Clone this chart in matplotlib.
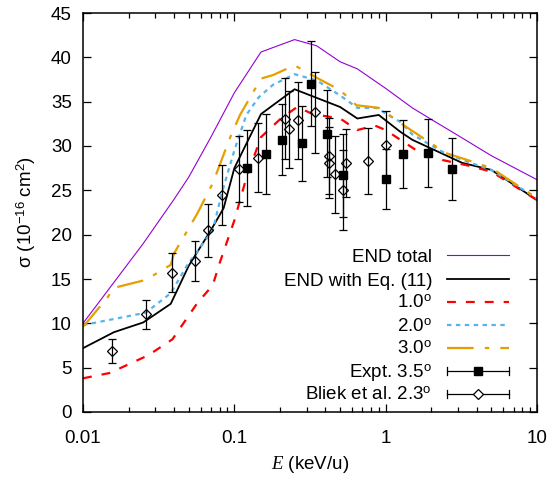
import matplotlib
matplotlib.use("Agg")
import matplotlib.pyplot as plt
from matplotlib.lines import Line2D

plt.rcParams['font.family'] = ['Liberation Sans', 'DejaVu Sans']
plt.rcParams['mathtext.fontset'] = 'custom'
plt.rcParams['mathtext.rm'] = 'Liberation Sans'
plt.rcParams['mathtext.it'] = 'Liberation Serif:italic'
plt.rcParams['mathtext.bf'] = 'Liberation Sans:bold'

# ---- data ----
total_E = [0.01, 0.025, 0.04, 0.05, 0.07, 0.1, 0.15, 0.25, 0.35, 0.5, 0.65, 1.0, 1.5, 2.0, 3.0, 5.0, 10.0]
total_s = [10.0, 19.0, 24.0, 26.5, 31.0, 36.0, 40.6, 42.0, 41.3, 39.5, 38.7, 36.5, 34.3, 33.0, 31.2, 28.9, 26.2]

eq11_E = [0.01, 0.016, 0.025, 0.038, 0.05, 0.07, 0.085, 0.1, 0.15, 0.25, 0.5, 0.65, 0.9, 1.25, 1.5, 3.2, 5.0, 10.0]
eq11_s = [7.2, 9.0, 10.1, 12.2, 16.5, 20.5, 23.0, 27.5, 33.6, 36.4, 34.4, 33.1, 33.5, 31.6, 30.7, 28.1, 27.3, 23.9]

a10_E = [0.01, 0.015, 0.027, 0.039, 0.057, 0.072, 0.08, 0.1, 0.12, 0.15, 0.2, 0.26, 0.33, 0.5, 0.65, 0.85, 1.0, 1.25, 1.6, 2.4, 3.5, 5.0, 6.5, 10.0]
a10_s = [3.8, 4.4, 6.4, 8.2, 12.3, 14.3, 16.8, 21.6, 26.4, 31.0, 33.0, 34.4, 33.6, 33.1, 31.8, 32.3, 31.8, 30.7, 29.5, 28.4, 27.8, 27.1, 25.9, 23.9]

a20_E = [0.01, 0.026, 0.038, 0.049, 0.072, 0.083, 0.1, 0.12, 0.145, 0.18, 0.25, 0.35, 0.5, 0.65, 0.87, 1.25, 1.5, 2.4, 3.5, 5.0, 10.0]
a20_s = [9.8, 11.2, 13.4, 16.6, 20.5, 24.8, 29.5, 33.5, 35.5, 36.9, 38.1, 37.4, 35.7, 34.3, 34.3, 32.7, 31.3, 29.3, 28.2, 27.3, 24.1]

a30_E = [0.01, 0.0145, 0.016, 0.026, 0.038, 0.04, 0.057, 0.072, 0.094, 0.109, 0.15, 0.18, 0.25, 0.35, 0.5, 0.64, 0.9, 1.3, 2.5, 3.5, 5.0, 10.0]
a30_s = [9.6, 12.9, 14.0, 14.9, 16.6, 17.9, 22.4, 25.8, 31.0, 33.5, 37.6, 38.0, 39.1, 37.7, 36.3, 34.6, 34.3, 32.4, 29.2, 28.4, 27.5, 24.1]

expt_E = [0.121, 0.162, 0.206, 0.28, 0.32, 0.41, 0.52, 1.01, 1.30, 1.9, 2.75]
expt_s = [27.5, 29.1, 30.7, 30.3, 37.0, 31.4, 26.7, 26.3, 29.1, 29.2, 27.4]
expt_err = [4.3, 4.5, 4.0, 4.2, 4.8, 4.9, 4.7, 3.4, 3.8, 3.8, 3.5]

bliek_E = [0.0156, 0.026, 0.039, 0.055, 0.067, 0.083, 0.107, 0.144, 0.216, 0.23, 0.264, 0.34, 0.42, 0.425, 0.46, 0.52, 0.55, 0.77, 1.0]
bliek_s = [6.9, 11.0, 15.7, 17.0, 20.5, 24.5, 27.4, 28.7, 33.1, 31.9, 32.9, 33.8, 28.9, 28.1, 26.8, 25.0, 28.1, 28.3, 30.1]
bliek_err = [1.35, 1.65, 2.2, 2.25, 3.0, 3.4, 3.7, 3.9, 4.6, 4.35, 4.35, 4.55, 4.3, 4.0, 4.3, 4.5, 3.8, 3.75, 3.9]

x_ticks = [0.01, 0.1, 1, 10]
x_ticklabels = ['0.01', '0.1', '1', '10']
y_ticks = [0, 5, 10, 15, 20, 25, 30, 35, 40, 45]

legend_labels = ['END total', 'END with Eq. (11)', '1.0$^{\\mathrm{o}}$', '2.0$^{\\mathrm{o}}$',
                 '3.0$^{\\mathrm{o}}$', 'Expt. 3.5$^{\\mathrm{o}}$', 'Bliek et al. 2.3$^{\\mathrm{o}}$']

# ---- styles ----
c_purple = '#9400d3'
c_red = '#ff0000'
c_blue = '#56b4e9'
c_orange = '#e69f00'
FS = 13.5

fig = plt.figure(figsize=(5.54, 4.87), dpi=100)
ax = fig.add_axes([83/554, 1-412/487, 454/554, 399/487])

styles = [
    dict(color=c_purple, lw=0.8, ls='-'),
    dict(color='black', lw=1.3, ls='-'),
    dict(color=c_red, lw=1.6, ls=(0, (4, 4.5))),
    dict(color=c_blue, lw=1.6, ls=(0, (2, 2))),
    dict(color=c_orange, lw=1.6, ls=(0, (12, 5, 2, 5))),
]
curves = [(total_E, total_s), (eq11_E, eq11_s), (a10_E, a10_s), (a20_E, a20_s), (a30_E, a30_s)]
for (xe, ys), st in zip(curves, styles):
    ax.plot(xe, ys, **st)

ax.errorbar(expt_E, expt_s, yerr=expt_err, fmt='s', color='black', ms=5.5,
            ecolor='black', elinewidth=0.9, capsize=3, capthick=0.9)
ax.errorbar(bliek_E, bliek_s, yerr=bliek_err, fmt='D', mfc='none', mec='black', ms=4.8, mew=0.9,
            ecolor='black', elinewidth=0.9, capsize=3, capthick=0.9)

ax.set_xscale('log')
ax.set_xlim(0.01, 10)
ax.set_ylim(0, 45)
ax.set_xticks(x_ticks)
ax.set_xticklabels(x_ticklabels)
ax.set_yticks(y_ticks)
ax.tick_params(which='both', direction='in', top=True, right=True, labelsize=FS)
ax.tick_params(which='major', length=6, width=0.9)
ax.tick_params(which='minor', length=3.5, width=0.9)
ax.tick_params(axis='x', pad=13)
ax.tick_params(axis='y', pad=8)
for sp in ax.spines.values():
    sp.set_linewidth(1.1)

ax.set_xlabel('$E$ (keV/u)', fontsize=FS, labelpad=5)
ax.set_ylabel('σ (10$^{\\mathrm{-16}}$ cm$^{\\mathrm{2}}$)', fontsize=FS, labelpad=9)

# ---- manual legend (gnuplot style: right-aligned text, sample on right) ----
rows_px = [255, 279, 302, 325, 348, 371, 394]
tx = (432 - 83) / 454
sx0 = (447 - 83) / 454
sx1 = (509 - 83) / 454
for i, lab in enumerate(legend_labels):
    yf = (412 - rows_px[i]) / 399
    ax.text(tx, yf - 6.5/399, lab, transform=ax.transAxes, ha='right', va='baseline', fontsize=FS)
    if i < 5:
        st = styles[i]
        ax.add_line(Line2D([sx0, sx1], [yf, yf], transform=ax.transAxes, clip_on=False, **st))
    else:
        ax.add_line(Line2D([sx0, sx1], [yf, yf], transform=ax.transAxes, color='black', lw=0.9))
        for xx in (sx0, sx1):
            ax.add_line(Line2D([xx, xx], [yf - 4/399, yf + 4/399], transform=ax.transAxes, color='black', lw=0.9))
        xm = (sx0 + sx1) / 2
        if i == 5:
            ax.add_line(Line2D([xm], [yf], transform=ax.transAxes, marker='s', color='black', ms=5.5, ls='none'))
        else:
            ax.add_line(Line2D([xm], [yf], transform=ax.transAxes, marker='D', mfc='white', mec='black',
                               ms=4.8, mew=0.9, ls='none'))

fig.savefig('out.png', dpi=100)
